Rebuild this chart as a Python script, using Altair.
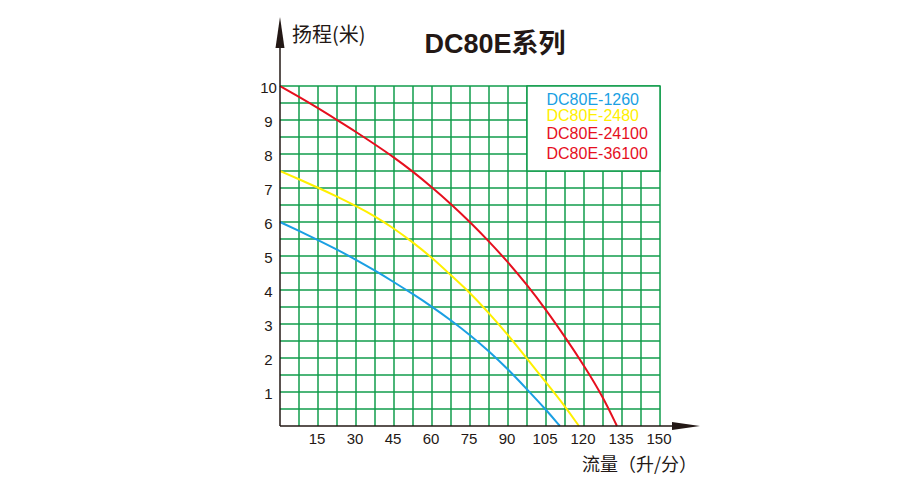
import altair as alt
import pandas as pd

# ---- data ----
red_x = [0, 7.5, 15, 22.5, 30, 37.5, 45, 52.5, 60, 67.5, 75, 82.5, 90, 97.5, 105, 112.5, 120, 127.5, 133]
red_y = [10, 9.68, 9.35, 9.0, 8.65, 8.28, 7.9, 7.48, 7.02, 6.53, 6.0, 5.43, 4.82, 4.15, 3.42, 2.62, 1.78, 0.86, 0]

yellow_x = [0, 7.5, 15, 22.5, 30, 37.5, 45, 52.5, 60, 67.5, 75, 82.5, 90, 97.5, 105, 112.5, 118]
yellow_y = [7.5, 7.26, 7.01, 6.75, 6.47, 6.17, 5.81, 5.40, 4.95, 4.43, 3.92, 3.32, 2.68, 1.98, 1.28, 0.58, 0]

blue_x = [0, 7.5, 15, 22.5, 30, 37.5, 45, 52.5, 60, 67.5, 75, 82.5, 90, 97.5, 105, 110.5]
blue_y = [6.0, 5.74, 5.47, 5.19, 4.89, 4.57, 4.23, 3.88, 3.51, 3.11, 2.68, 2.2, 1.67, 1.08, 0.48, 0]

series_names = ["DC80E-1260", "DC80E-2480", "DC80E-24100", "DC80E-36100"]
series_colors = ["#1a9fe3", "#fff000", "#e60f1e", "#e60f1e"]

x_labels = [15, 30, 45, 60, 75, 90, 105, 120, 135, 150]
y_labels = [1, 2, 3, 4, 5, 6, 7, 8, 9, 10]
x_grid = [7.5, 15, 22.5, 30, 37.5, 45, 52.5, 60, 67.5, 75, 82.5, 90, 97.5, 105,
          112.5, 120, 127.5, 135, 142.5, 150]
y_grid = [0.5, 1, 1.5, 2, 2.5, 3, 3.5, 4, 4.5, 5, 5.5, 6, 6.5, 7, 7.5, 8, 8.5, 9, 9.5, 10]

legend_box_x = [97.5, 150]
legend_box_y = [7.5, 10]

title_text = "DC80E系列"
y_title = "扬程(米)"
x_title = "流量（升/分）"

GREEN = "#119c4b"
INK = "#231815"
W, H = 380, 340

rows = []
for xs, ys, name in [(blue_x, blue_y, series_names[0]),
                     (yellow_x, yellow_y, series_names[1]),
                     (red_x, red_y, series_names[2])]:
    for a, b in zip(xs, ys):
        rows.append({"flow": a, "head": b, "series": name})
curves = pd.DataFrame(rows)

xscale = alt.Scale(domain=[0, 150], nice=False, zero=False)
yscale = alt.Scale(domain=[0, 10], nice=False, zero=False)

# grid lines
xg = alt.Chart(pd.DataFrame({"flow": x_grid})).mark_rule(color=GREEN, strokeWidth=1.5).encode(
    x=alt.X("flow:Q", scale=xscale, axis=None), y=alt.value(0), y2=alt.value(H))
yg = alt.Chart(pd.DataFrame({"head": y_grid})).mark_rule(color=GREEN, strokeWidth=1.5).encode(
    y=alt.Y("head:Q", scale=yscale, axis=None), x=alt.value(0), x2=alt.value(W))

lines = alt.Chart(curves).mark_line(strokeWidth=2, interpolate="basis").encode(
    x=alt.X("flow:Q", scale=xscale, axis=None),
    y=alt.Y("head:Q", scale=yscale, axis=None),
    color=alt.Color("series:N", scale=alt.Scale(domain=series_names, range=series_colors),
                    legend=None),
    detail="series:N",
)

# tick labels
xl = alt.Chart(pd.DataFrame({"flow": x_labels})).mark_text(
    font="Liberation Sans", fontSize=15, color=INK, align="center", baseline="top", dx=-1
).encode(x=alt.X("flow:Q", scale=xscale, axis=None), y=alt.value(H + 6),
         text=alt.Text("flow:Q"))
yl = alt.Chart(pd.DataFrame({"head": y_labels})).mark_text(
    font="Liberation Sans", fontSize=15, color=INK, align="center", baseline="middle", dy=1.5
).encode(y=alt.Y("head:Q", scale=yscale, axis=None), x=alt.value(-11.5),
         text=alt.Text("head:Q"))

box_df = pd.DataFrame({"flow": [legend_box_x[0]], "flow_end": [legend_box_x[1]],
                       "head": [legend_box_y[0]], "head_end": [legend_box_y[1]]})
box = alt.Chart(box_df).mark_rect(fill="white", stroke=GREEN, strokeWidth=1.5).encode(
    x=alt.X("flow:Q", scale=xscale, axis=None), x2="flow_end:Q",
    y=alt.Y("head:Q", scale=yscale, axis=None), y2="head_end:Q",
)

one = pd.DataFrame({"k": [0]})
legend_y_px = [14, 29.7, 47.8, 68]
legend_layers = []
for name, col, yy in zip(series_names, series_colors, legend_y_px):
    legend_layers.append(
        alt.Chart(one).mark_text(text=name, color=col, font="Liberation Sans", fontSize=16,
                                 align="left", baseline="middle").encode(
            x=alt.value(266.5), y=alt.value(yy))
    )

x_axis_line = alt.Chart(one).mark_rule(color=INK, strokeWidth=1.5).encode(
    x=alt.value(0), x2=alt.value(396), y=alt.value(H))
y_axis_line = alt.Chart(one).mark_rule(color=INK, strokeWidth=1.5).encode(
    x=alt.value(0), y=alt.value(-45), y2=alt.value(H))
y_arrow = alt.Chart(one).mark_point(shape="M0,-1L0.29,1L-0.29,1Z", size=961, filled=True,
                                    color=INK, opacity=1).encode(
    x=alt.value(0), y=alt.value(-53.5))
x_arrow = alt.Chart(one).mark_point(shape="M1,0L-1,-0.29L-1,0.29Z", size=784, filled=True,
                                    color=INK, opacity=1).encode(
    x=alt.value(406), y=alt.value(H))

title = alt.Chart(one).mark_text(text=title_text, font="Liberation Sans, Noto Sans CJK SC",
                                 fontWeight="bold", fontSize=27, color=INK,
                                 align="center", baseline="alphabetic").encode(
    x=alt.value(215), y=alt.value(-33))
ytitle = alt.Chart(one).mark_text(text=y_title, font="Noto Sans CJK SC", fontSize=20,
                                  color=INK, align="left", baseline="middle").encode(
    x=alt.value(12), y=alt.value(-50))
xtitle = alt.Chart(one).mark_text(text=x_title, font="Noto Sans CJK SC", fontSize=18,
                                  color=INK, align="left", baseline="middle").encode(
    x=alt.value(302), y=alt.value(380))

chart = alt.layer(xg, yg, lines, box, *legend_layers, xl, yl, x_axis_line, y_axis_line,
                  y_arrow, x_arrow, title, ytitle, xtitle).properties(
    width=W, height=H,
    padding={"left": 272, "top": 78, "right": 230, "bottom": 52},
    autosize=alt.AutoSizeParams(type="none"),
    background="white",
).configure_view(strokeWidth=0)

chart.save("out.html", embed_options={"renderer": "svg", "actions": False})
